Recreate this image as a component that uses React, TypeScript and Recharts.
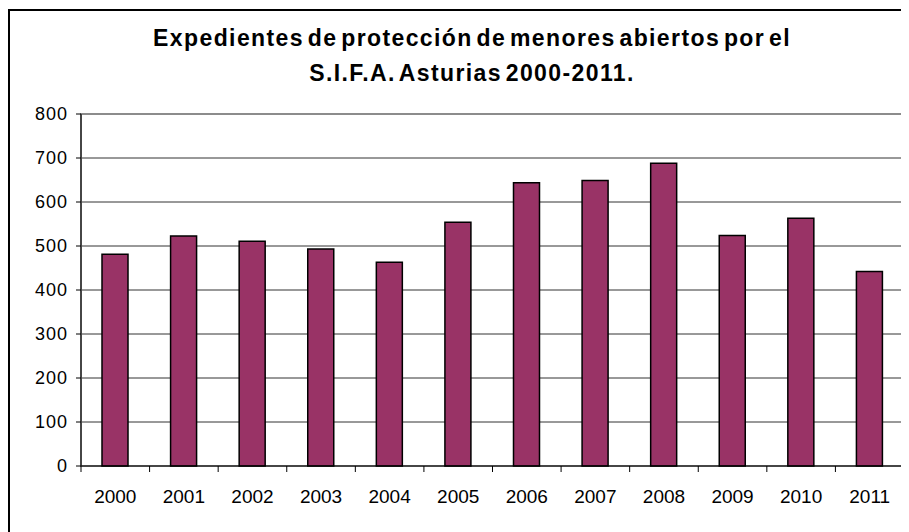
import { Bar, BarChart, CartesianGrid, ReferenceArea, XAxis, YAxis } from "recharts";

const years = ["2000", "2001", "2002", "2003", "2004", "2005", "2006", "2007", "2008", "2009", "2010", "2011"];
const expedientes = [481, 523, 511, 493, 463, 554, 644, 649, 688, 524, 563, 442];
const yTicks = [0, 100, 200, 300, 400, 500, 600, 700, 800];

const data = years.map((year, i) => ({ year, total: expedientes[i] }));

const FONT = '"Liberation Sans", Arial, sans-serif';
const CHART_W = 901;
const CHART_H = 524;
const Y_AXIS_W = 73;
const RIGHT = 5;
const BAND = (CHART_W - Y_AXIS_W - RIGHT) / years.length;

// Excel-style category axis: tick marks sit between categories, label in the middle
const YearTick = (props: any) => {
  const { x, y, payload, index } = props;
  const left = x - BAND / 2;
  return (
    <g>
      <line x1={left} y1={y} x2={left} y2={y + 6} stroke="#000" />
      {index === years.length - 1 && (
        <line x1={x + BAND / 2} y1={y} x2={x + BAND / 2} y2={y + 6} stroke="#000" />
      )}
      <text x={x} y={y + 37} textAnchor="middle" fontSize={19} fontFamily={FONT} fill="#000">
        {payload.value}
      </text>
    </g>
  );
};

const App = () => {
  return (
    <div style={{ position: "relative", width: CHART_W, height: CHART_H, overflow: "hidden" }}>
      <div
        style={{
          position: "absolute",
          left: 0,
          top: 1,
          width: 940,
          height: 560,
          border: "2px solid #000",
          boxSizing: "border-box",
        }}
      />
      <div
        style={{
          position: "absolute",
          left: 0,
          top: 13,
          width: 928,
          textAlign: "center",
          fontFamily: FONT,
          fontWeight: "bold",
          fontSize: 23,
          letterSpacing: "1.4px",
          wordSpacing: "-4px",
          lineHeight: "35px",
          color: "#000",
        }}
      >
        Expedientes de protección de menores abiertos por el
        <br />
        S.I.F.A. Asturias 2000-2011.
      </div>
      <div style={{ position: "absolute", left: 0, top: 0 }}>
        <BarChart
          width={CHART_W}
          height={CHART_H}
          data={data}
          barSize={26}
          margin={{ top: 106, right: RIGHT, left: 0, bottom: 0 }}
        >
          <CartesianGrid vertical={false} stroke="#333" strokeWidth={1} />
          <ReferenceArea y1={0} y2={800} fill="none" stroke="#8c8c8c" strokeWidth={2} />
          <XAxis
            dataKey="year"
            height={66}
            tickSize={0}
            tickMargin={0}
            interval={0}
            axisLine={{ stroke: "#000" }}
            tick={<YearTick />}
          />
          <YAxis
            width={Y_AXIS_W}
            domain={[0, 800]}
            ticks={yTicks}
            interval={0}
            tickSize={5}
            tickMargin={8}
            axisLine={{ stroke: "#000" }}
            tickLine={{ stroke: "#000" }}
            tick={{ fontSize: 18, fontFamily: FONT, fill: "#000", letterSpacing: 1 }}
          />
          <Bar
            dataKey="total"
            fill="#993366"
            stroke="#000"
            strokeWidth={1.5}
            isAnimationActive={false}
          />
        </BarChart>
      </div>
    </div>
  );
};

export default App;
